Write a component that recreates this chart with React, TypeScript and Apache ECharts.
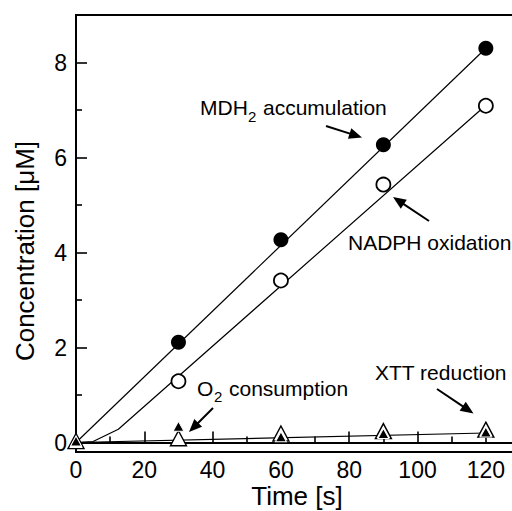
import React, { useEffect, useRef } from "react";
import * as echarts from "echarts";

// ---- data ----
const timeTicks = [0, 20, 40, 60, 80, 100, 120];
const timeMinor = [10, 30, 50, 70, 90, 110];
const concTicks = [0, 2, 4, 6, 8];
const concMinor = [1, 3, 5, 7];

const times = [30, 60, 90, 120];
const mdh2 = [2.11, 4.27, 6.27, 8.3];
const nadph = [1.29, 3.41, 5.43, 7.09];

const triTimes = [0, 30, 60, 90, 120];
const o2 = [0.03, 0.09, 0.19, 0.24, 0.27];
const xtt = [0.03, 0.34, 0.12, 0.19, 0.22];

const mdh2FitT = [0, 120];
const mdh2Fit = [0, 8.3];
const nadphFitT = [0, 5, 12.4, 120];
const nadphFit = [0, 0.02, 0.28, 7.1];
const lowFitT = [0, 120];
const lowFit = [0, 0.2];

const FONT = '"Liberation Sans", Arial, Helvetica, sans-serif';

function pairs(xs: number[], ys: number[]) {
  return xs.map((x, i) => [x, ys[i]]);
}

function arrow(x1: number, y1: number, x2: number, y2: number) {
  const dx = x2 - x1;
  const dy = y2 - y1;
  const L = Math.hypot(dx, dy);
  const ux = dx / L;
  const uy = dy / L;
  const hl = 13;
  const hw = 5.5;
  const bx = x2 - ux * hl;
  const by = y2 - uy * hl;
  return [
    {
      type: "line",
      shape: { x1, y1, x2: bx + ux * 2, y2: by + uy * 2 },
      style: { stroke: "#000", lineWidth: 2 },
      z: 100,
    },
    {
      type: "polygon",
      shape: {
        points: [
          [x2, y2],
          [bx - uy * hw, by + ux * hw],
          [bx + uy * hw, by - ux * hw],
        ],
      },
      style: { fill: "#000" },
      z: 100,
    },
  ];
}

function txt(x: number, y: number, text: string, size: number, extra: any = {}) {
  return {
    type: "text",
    x,
    y,
    z: 100,
    ...extra,
    style: {
      text,
      font: `${size}px ${FONT}`,
      fontSize: size,
      fontFamily: FONT,
      fill: "#000",
      textAlign: extra.align || "left",
      align: extra.align || "left",
      textVerticalAlign: "middle",
      verticalAlign: "middle",
    },
  };
}

export default function App() {
  const ref = useRef<HTMLDivElement>(null);
  useEffect(() => {
    if (!ref.current) return;
    const chart = echarts.init(ref.current, undefined, { renderer: "svg" });
    const axisCommon = {
      type: "value",
      splitLine: { show: false },
    };
    const option: any = {
      animation: false,
      backgroundColor: "#fff",
      grid: {
        left: 76,
        top: 15,
        width: 444,
        height: 437,
        show: true,
        borderColor: "#000",
        borderWidth: 2,
        backgroundColor: "transparent",
        containLabel: false,
        outerBoundsMode: "none",
      },
      xAxis: [
        {
          ...axisCommon,
          min: 0,
          max: 130,
          position: "bottom",
          axisLine: { show: true, lineStyle: { color: "#000", width: 2 } },
          axisTick: {
            show: true,
            inside: true,
            length: 11,
            customValues: timeTicks,
            lineStyle: { color: "#000", width: 1.6 },
          },
          axisLabel: {
            customValues: timeTicks,
            margin: 6,
            fontSize: 23,
            fontFamily: FONT,
            color: "#000",
          },
        },
        {
          ...axisCommon,
          min: 0,
          max: 130,
          position: "bottom",
          axisLine: { show: false },
          axisTick: {
            show: true,
            inside: true,
            length: 6,
            customValues: timeMinor,
            lineStyle: { color: "#000", width: 1.6 },
          },
          axisLabel: { show: false },
        },
      ],
      yAxis: [
        {
          ...axisCommon,
          min: -0.2,
          max: 9,
          position: "left",
          axisLine: { show: true, lineStyle: { color: "#000", width: 2 } },
          axisTick: {
            show: true,
            inside: true,
            length: 11,
            customValues: concTicks,
            lineStyle: { color: "#000", width: 1.6 },
          },
          axisLabel: {
            customValues: concTicks,
            margin: 9,
            fontSize: 23,
            fontFamily: FONT,
            color: "#000",
          },
        },
        {
          ...axisCommon,
          min: -0.2,
          max: 9,
          position: "left",
          axisLine: { show: false },
          axisTick: {
            show: true,
            inside: true,
            length: 6,
            customValues: concMinor,
            lineStyle: { color: "#000", width: 1.6 },
          },
          axisLabel: { show: false },
        },
      ],
      series: [
        {
          name: "MDH2 fit",
          type: "line",
          data: pairs(mdh2FitT, mdh2Fit),
          symbol: "none",
          lineStyle: { color: "#000", width: 1.2 },
          z: 2,
        },
        {
          name: "NADPH fit",
          type: "line",
          data: pairs(nadphFitT, nadphFit),
          symbol: "none",
          lineStyle: { color: "#000", width: 1.2 },
          z: 2,
        },
        {
          name: "low fit",
          type: "line",
          data: pairs(lowFitT, lowFit),
          symbol: "none",
          lineStyle: { color: "#000", width: 1.2 },
          z: 2,
        },
        {
          name: "MDH2 accumulation",
          type: "scatter",
          data: pairs(times, mdh2),
          symbol: "circle",
          symbolSize: 15,
          itemStyle: { color: "#000", borderColor: "#000", borderWidth: 0, opacity: 1 },
          z: 5,
        },
        {
          name: "NADPH oxidation",
          type: "scatter",
          data: pairs(times, nadph),
          symbol: "circle",
          symbolSize: 14,
          itemStyle: { color: "#fff", borderColor: "#000", borderWidth: 1.8, opacity: 1 },
          z: 5,
        },
        {
          name: "O2 consumption",
          type: "scatter",
          data: pairs(triTimes, o2),
          symbol: "triangle",
          symbolSize: [16, 15],
          itemStyle: { color: "#fff", borderColor: "#000", borderWidth: 1.4, opacity: 1 },
          z: 5,
        },
        {
          name: "XTT reduction",
          type: "scatter",
          data: pairs(triTimes, xtt),
          symbol: "triangle",
          symbolSize: [11, 10],
          itemStyle: { color: "#000", borderColor: "#fff", borderWidth: 1, opacity: 1 },
          z: 6,
        },
      ],
      graphic: [
        // axis titles
        txt(297, 496, "Time [s]", 26, { align: "center" }),
        {
          ...txt(25, 251, "Concentration [μM]", 26, { align: "center" }),
          rotation: Math.PI / 2,
        },
        // annotations
        txt(200, 107.5, "MDH", 21),
        txt(248, 116, "2", 15),
        txt(263, 107.5, "accumulation", 21),
        txt(348, 242.5, "NADPH oxidation", 21),
        txt(197, 388.5, "O", 21),
        txt(214, 396, "2", 15),
        txt(229, 388.5, "consumption", 21),
        txt(375, 372.5, "XTT reduction", 21),
        ...arrow(326, 126, 362, 137.5),
        ...arrow(429, 221, 393, 197),
        ...arrow(213, 408, 189, 432),
        ...arrow(437, 389, 473.5, 413.5),
      ],
    };
    chart.setOption(option);
    return () => chart.dispose();
  }, []);
  return (
    <div
      ref={ref}
      style={{ position: "fixed", left: 0, top: 0, width: 540, height: 511, background: "#fff" }}
    />
  );
}
